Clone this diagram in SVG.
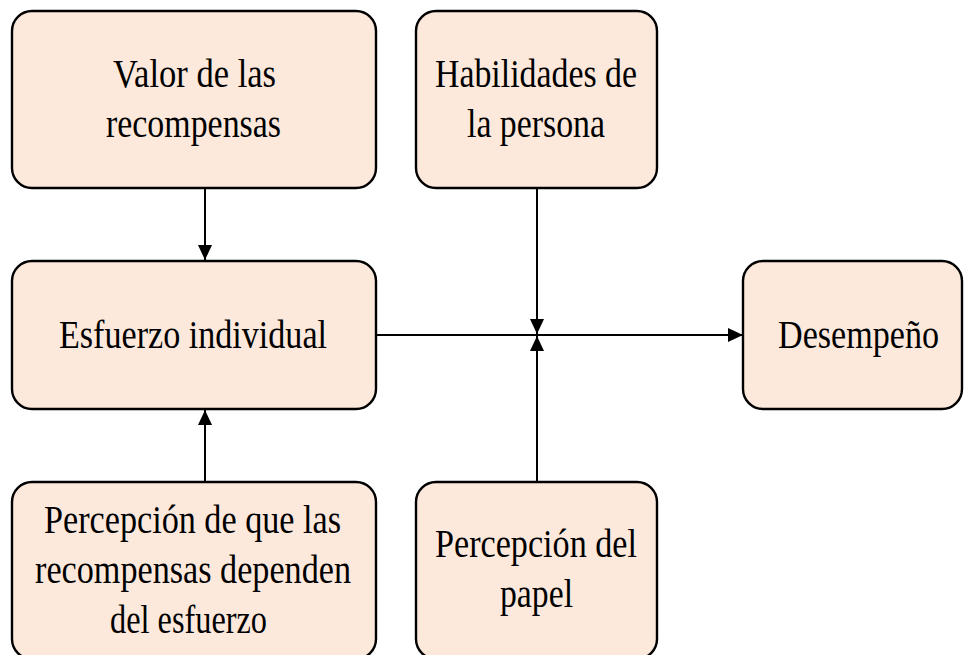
<svg xmlns="http://www.w3.org/2000/svg" width="965" height="655" viewBox="0 0 965 655">
<defs>
<style>
.box{fill:#FCE9DC;stroke:#000;stroke-width:2.4}
.t{font-family:"Liberation Serif","Times New Roman",serif;font-size:40px;fill:#000}
.c{stroke:#000;stroke-width:2;fill:none}
</style>
<marker id="ah" markerUnits="userSpaceOnUse" markerWidth="16" markerHeight="16" viewBox="0 0 16 16" refX="15" refY="8" orient="auto">
<path d="M0,1 L15,8 L0,15 Z" fill="#000"/>
</marker>
</defs>
<rect width="965" height="655" fill="#fff"/>
<g id="connectors">
<line class="c" x1="205" y1="188" x2="205" y2="260" marker-end="url(#ah)"/>
<line class="c" x1="205" y1="482" x2="205" y2="410" marker-end="url(#ah)"/>
<line class="c" x1="537" y1="188" x2="537" y2="334" marker-end="url(#ah)"/>
<line class="c" x1="537" y1="482" x2="537" y2="336" marker-end="url(#ah)"/>
<line class="c" x1="376" y1="335" x2="743" y2="335" marker-end="url(#ah)"/>
</g>
<g id="valor">
<rect class="box" x="12" y="11" width="364" height="177" rx="20"/>
<text class="t" x="113" y="87" textLength="163" lengthAdjust="spacingAndGlyphs">Valor de las</text>
<text class="t" x="106" y="137" textLength="175" lengthAdjust="spacingAndGlyphs">recompensas</text>
</g>
<g id="habilidades">
<rect class="box" x="416" y="11" width="241" height="177" rx="20"/>
<text class="t" x="435" y="87" textLength="202" lengthAdjust="spacingAndGlyphs">Habilidades de</text>
<text class="t" x="467" y="137" textLength="138" lengthAdjust="spacingAndGlyphs">la persona</text>
</g>
<g id="esfuerzo">
<rect class="box" x="12" y="261" width="364" height="148" rx="20"/>
<text class="t" x="59" y="348" textLength="268" lengthAdjust="spacingAndGlyphs">Esfuerzo individual</text>
</g>
<g id="desempeno">
<rect class="box" x="743" y="261" width="219" height="148" rx="20"/>
<text class="t" x="778" y="348" textLength="161" lengthAdjust="spacingAndGlyphs">Desempeño</text>
</g>
<g id="percepcion-recompensas">
<rect class="box" x="12" y="482" width="364" height="177" rx="20"/>
<text class="t" x="44" y="533" textLength="297" lengthAdjust="spacingAndGlyphs">Percepción de que las</text>
<text class="t" x="35" y="583" textLength="316" lengthAdjust="spacingAndGlyphs">recompensas dependen</text>
<text class="t" x="110" y="633" textLength="157" lengthAdjust="spacingAndGlyphs">del esfuerzo</text>
</g>
<g id="percepcion-papel">
<rect class="box" x="416" y="482" width="241" height="177" rx="20"/>
<text class="t" x="435" y="557" textLength="202" lengthAdjust="spacingAndGlyphs">Percepción del</text>
<text class="t" x="500" y="607" textLength="73" lengthAdjust="spacingAndGlyphs">papel</text>
</g>
</svg>
